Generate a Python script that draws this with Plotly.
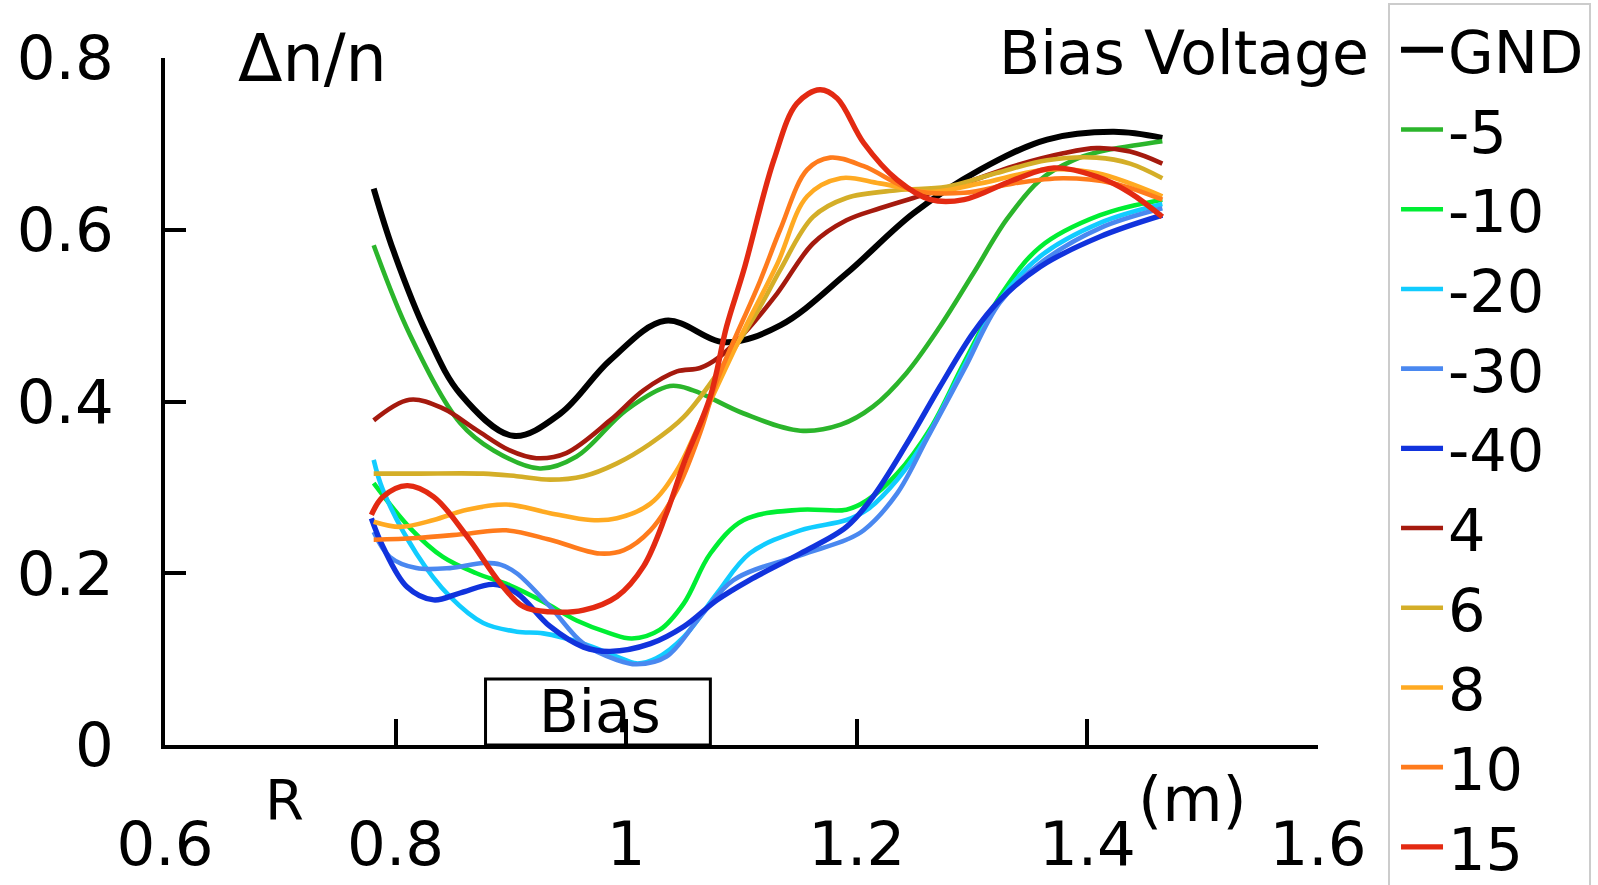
import plotly.graph_objects as go

FONT = "DejaVu Sans"

series_names = ["GND", "-5", "-10", "-20", "-30", "-40", "4", "6", "8", "10", "15"]
series_colors = ["#000000", "#2bb52b", "#00ee33", "#11ccff", "#4a88f0", "#1133dd",
                 "#a51a0e", "#d4ae28", "#ffaa22", "#ff7b1c", "#e32a12"]
series_widths = [6, 4.6, 4.6, 4.6, 4.6, 5.4, 4.6, 4.6, 4.6, 4.6, 5.4]

gnd_r = [0.781, 0.798, 0.827, 0.856, 0.902, 0.943, 0.986, 1.034, 1.086, 1.134, 1.191, 1.249, 1.307, 1.365, 1.423, 1.465]
gnd_dn = [0.648, 0.576, 0.479, 0.409, 0.360, 0.386, 0.448, 0.494, 0.469, 0.489, 0.549, 0.619, 0.670, 0.705, 0.714, 0.707]

m5_r = [0.781, 0.812, 0.856, 0.885, 0.925, 0.957, 1.000, 1.038, 1.058, 1.102, 1.151, 1.186, 1.214, 1.243, 1.272, 1.301, 1.330, 1.359, 1.388, 1.411, 1.440, 1.465]
m5_dn = [0.582, 0.479, 0.375, 0.343, 0.322, 0.336, 0.390, 0.418, 0.413, 0.386, 0.366, 0.373, 0.394, 0.433, 0.487, 0.549, 0.612, 0.658, 0.681, 0.691, 0.698, 0.703]

m10_r = [0.781, 0.813, 0.841, 0.870, 0.899, 0.928, 0.957, 0.986, 1.005, 1.029, 1.050, 1.073, 1.102, 1.151, 1.191, 1.209, 1.235, 1.264, 1.293, 1.324, 1.359, 1.411, 1.465]
m10_dn = [0.305, 0.252, 0.219, 0.200, 0.186, 0.167, 0.145, 0.130, 0.124, 0.134, 0.165, 0.223, 0.262, 0.274, 0.274, 0.285, 0.316, 0.369, 0.445, 0.522, 0.580, 0.617, 0.635]

m20_r = [0.781, 0.789, 0.818, 0.847, 0.876, 0.905, 0.928, 0.963, 0.992, 1.009, 1.026, 1.050, 1.079, 1.107, 1.151, 1.191, 1.209, 1.235, 1.261, 1.293, 1.324, 1.359, 1.411, 1.465]
m20_dn = [0.332, 0.297, 0.223, 0.173, 0.142, 0.132, 0.130, 0.118, 0.103, 0.095, 0.101, 0.126, 0.177, 0.223, 0.250, 0.262, 0.274, 0.309, 0.359, 0.441, 0.518, 0.569, 0.608, 0.630]

m30_r = [0.781, 0.795, 0.818, 0.847, 0.876, 0.891, 0.905, 0.934, 0.963, 0.992, 1.009, 1.035, 1.064, 1.093, 1.151, 1.191, 1.206, 1.235, 1.261, 1.293, 1.324, 1.359, 1.411, 1.465]
m30_dn = [0.248, 0.219, 0.206, 0.206, 0.212, 0.210, 0.200, 0.161, 0.118, 0.099, 0.094, 0.103, 0.149, 0.192, 0.221, 0.239, 0.250, 0.293, 0.357, 0.437, 0.515, 0.561, 0.602, 0.625]

m40_r = [0.779, 0.789, 0.810, 0.833, 0.856, 0.885, 0.905, 0.934, 0.963, 0.986, 1.021, 1.050, 1.079, 1.107, 1.151, 1.191, 1.214, 1.243, 1.272, 1.301, 1.324, 1.359, 1.411, 1.465]
m40_dn = [0.264, 0.231, 0.184, 0.169, 0.177, 0.187, 0.177, 0.138, 0.114, 0.109, 0.118, 0.138, 0.169, 0.192, 0.223, 0.254, 0.289, 0.350, 0.417, 0.480, 0.518, 0.557, 0.592, 0.617]

p4_r = [0.781, 0.812, 0.841, 0.870, 0.899, 0.922, 0.948, 0.986, 1.015, 1.044, 1.064, 1.081, 1.102, 1.131, 1.162, 1.191, 1.220, 1.249, 1.293, 1.336, 1.379, 1.408, 1.437, 1.465]
p4_dn = [0.378, 0.402, 0.392, 0.367, 0.343, 0.334, 0.340, 0.378, 0.413, 0.435, 0.439, 0.452, 0.479, 0.526, 0.584, 0.611, 0.625, 0.637, 0.654, 0.674, 0.689, 0.695, 0.691, 0.677]

p6_r = [0.781, 0.818, 0.876, 0.905, 0.934, 0.963, 0.992, 1.021, 1.050, 1.087, 1.116, 1.1335, 1.162, 1.191, 1.235, 1.278, 1.321, 1.365, 1.408, 1.437, 1.465]
p6_dn = [0.316, 0.316, 0.316, 0.313, 0.309, 0.313, 0.328, 0.351, 0.382, 0.448, 0.510, 0.553, 0.615, 0.637, 0.646, 0.650, 0.666, 0.681, 0.684, 0.677, 0.660]

p8_r = [0.781, 0.804, 0.833, 0.862, 0.896, 0.934, 0.969, 0.992, 1.021, 1.044, 1.064, 1.102, 1.131, 1.157, 1.186, 1.220, 1.264, 1.307, 1.365, 1.408, 1.465]
p8_dn = [0.260, 0.254, 0.262, 0.274, 0.280, 0.270, 0.262, 0.264, 0.281, 0.320, 0.375, 0.483, 0.560, 0.639, 0.660, 0.654, 0.644, 0.654, 0.670, 0.666, 0.639]

p10_r = [0.781, 0.818, 0.862, 0.896, 0.934, 0.977, 0.998, 1.021, 1.044, 1.064, 1.079, 1.116, 1.1335, 1.157, 1.177, 1.206, 1.249, 1.293, 1.336, 1.379, 1.423, 1.465]
p10_dn = [0.239, 0.241, 0.246, 0.250, 0.239, 0.223, 0.227, 0.250, 0.297, 0.363, 0.425, 0.540, 0.600, 0.670, 0.684, 0.674, 0.646, 0.643, 0.654, 0.660, 0.654, 0.635]

p15_r = [0.779, 0.789, 0.810, 0.833, 0.862, 0.891, 0.911, 0.934, 0.963, 0.992, 1.015, 1.035, 1.050, 1.073, 1.087, 1.102, 1.128, 1.148, 1.168, 1.183, 1.206, 1.235, 1.264, 1.293, 1.336, 1.371, 1.408, 1.437, 1.465]
p15_dn = [0.268, 0.289, 0.302, 0.289, 0.243, 0.188, 0.161, 0.155, 0.157, 0.173, 0.208, 0.270, 0.328, 0.406, 0.487, 0.553, 0.681, 0.747, 0.763, 0.753, 0.701, 0.658, 0.635, 0.635, 0.658, 0.672, 0.662, 0.643, 0.615]

series_r = [gnd_r, m5_r, m10_r, m20_r, m30_r, m40_r, p4_r, p6_r, p8_r, p10_r, p15_r]
series_dn = [gnd_dn, m5_dn, m10_dn, m20_dn, m30_dn, m40_dn, p4_dn, p6_dn, p8_dn, p10_dn, p15_dn]

x_tickvals = [0.6, 0.8, 1.0, 1.2, 1.4, 1.6]
x_ticktext = ["0.6", "0.8", "1", "1.2", "1.4", "1.6"]
y_tickvals = [0, 0.2, 0.4, 0.6, 0.8]
y_ticktext = ["0", "0.2", "0.4", "0.6", "0.8"]

bias_box_r = [0.878, 1.073]
bias_box_top = 0.077

fig = go.Figure()
for name, color, w, r, dn in zip(series_names, series_colors, series_widths, series_r, series_dn):
    fig.add_trace(go.Scatter(x=r, y=dn, mode="lines", name=name,
                             line=dict(color=color, width=w, shape="spline", smoothing=1.0)))

fig.add_shape(type="rect", xref="x", yref="y", x0=bias_box_r[0], x1=bias_box_r[1],
              y0=0, y1=bias_box_top, line=dict(color="black", width=3), layer="below")

fig.add_annotation(x=(bias_box_r[0] + bias_box_r[1]) / 2 + 0.002, y=bias_box_top / 2, xref="x", yref="y",
                   text="Bias", showarrow=False, font=dict(family=FONT, size=58, color="black"),
                   xanchor="center", yanchor="middle")
fig.add_annotation(x=0.062, y=1.0, xref="paper", yref="paper", text="Δn/n", showarrow=False,
                   font=dict(family=FONT, size=65, color="black"), xanchor="left", yanchor="middle")
fig.add_annotation(x=1.046, y=1.007, xref="paper", yref="paper", text="Bias Voltage", showarrow=False,
                   font=dict(family=FONT, size=60, color="black"), xanchor="right", yanchor="middle")
fig.add_annotation(x=0.104, y=-0.080, xref="paper", yref="paper", text="R", showarrow=False,
                   font=dict(family=FONT, size=56, color="black"), xanchor="center", yanchor="middle")
fig.add_annotation(x=0.891, y=-0.080, xref="paper", yref="paper", text="(m)", showarrow=False,
                   font=dict(family=FONT, size=62, color="black"), xanchor="center", yanchor="middle")

fig.update_layout(
    width=1598, height=885,
    margin=dict(l=165, r=280, t=58, b=140, autoexpand=False),
    paper_bgcolor="white", plot_bgcolor="white",
    font=dict(family=FONT, size=61, color="black"),
    showlegend=True,
    legend=dict(x=0.8686, y=0.9966, xref="container", yref="container",
                xanchor="left", yanchor="top", bordercolor="#cccccc", borderwidth=2,
                bgcolor="white", font=dict(family=FONT, size=59, color="black"),
                itemwidth=42, indentation=6, maxheight=2000, tracegroupgap=0),
    xaxis=dict(range=[0.6, 1.6], tickvals=x_tickvals, ticktext=x_ticktext,
               showline=True, linecolor="black", linewidth=4, showgrid=False, zeroline=False,
               ticks="inside", ticklen=26, tickwidth=4, tickcolor="black",
               tickfont=dict(family=FONT, size=61, color="black"), ticklabelstandoff=43),
    yaxis=dict(range=[0, 0.8], tickvals=y_tickvals, ticktext=y_ticktext,
               showline=True, linecolor="black", linewidth=4, showgrid=False, zeroline=False,
               ticks="inside", ticklen=21, tickwidth=4, tickcolor="black",
               tickfont=dict(family=FONT, size=61, color="black"), ticklabelstandoff=35),
)

fig.write_html("out.html")
